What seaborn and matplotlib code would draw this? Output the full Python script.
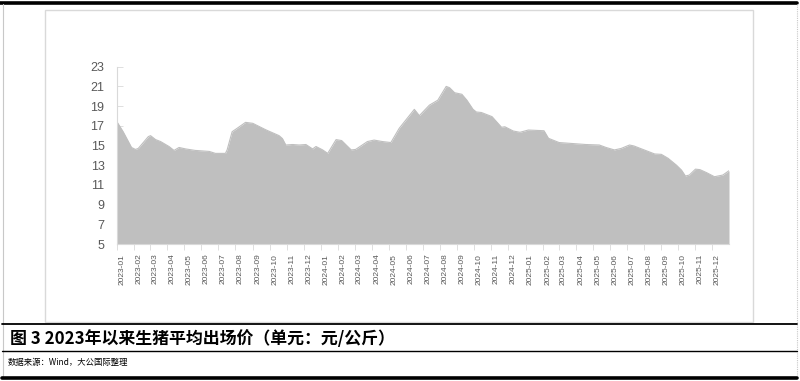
import matplotlib
matplotlib.use("Agg")
import matplotlib.pyplot as plt
import matplotlib.dates as mdates
from matplotlib import font_manager
from matplotlib.lines import Line2D
from matplotlib.patches import Rectangle
import seaborn as sns
import pandas as pd
import numpy as np

dates = [
    "2023-01-01", "2023-01-12", "2023-01-27", "2023-02-03", "2023-02-08", "2023-02-26",
    "2023-03-02", "2023-03-11", "2023-03-20", "2023-04-04", "2023-04-13", "2023-04-22",
    "2023-05-04", "2023-05-21", "2023-06-15", "2023-06-26", "2023-07-14", "2023-07-17",
    "2023-07-26", "2023-08-04", "2023-08-19", "2023-09-01", "2023-09-24", "2023-10-18",
    "2023-10-24", "2023-10-30", "2023-11-11", "2023-11-23", "2023-12-05", "2023-12-17",
    "2023-12-23", "2024-01-04", "2024-01-13", "2024-01-28", "2024-02-07", "2024-02-24",
    "2024-03-03", "2024-03-24", "2024-04-05", "2024-04-20", "2024-05-05", "2024-05-20",
    "2024-06-16", "2024-06-25", "2024-07-13", "2024-07-28", "2024-08-12", "2024-08-18",
    "2024-08-27", "2024-09-09", "2024-09-18", "2024-09-29", "2024-10-05", "2024-10-14",
    "2024-11-02", "2024-11-10", "2024-11-19", "2024-11-25", "2024-12-10", "2024-12-22",
    "2025-01-06", "2025-02-03", "2025-02-11", "2025-03-02", "2025-03-26", "2025-04-19",
    "2025-05-13", "2025-05-25", "2025-06-09", "2025-06-21", "2025-07-06", "2025-07-14",
    "2025-07-30", "2025-08-20", "2025-09-01", "2025-09-13", "2025-09-28", "2025-10-07",
    "2025-10-14", "2025-10-21", "2025-11-01", "2025-11-09", "2025-11-21", "2025-12-05",
    "2025-12-20", "2025-12-31",
]
prices = [
    17.4, 16.4, 14.8, 14.6, 14.7, 15.9,
    16.0, 15.6, 15.4, 14.9, 14.5, 14.8,
    14.65, 14.5, 14.4, 14.2, 14.2, 14.55,
    16.4, 16.75, 17.35, 17.25, 16.6, 16.0,
    15.7, 15.05, 15.1, 15.05, 15.1, 14.65,
    14.9, 14.55, 14.2, 15.6, 15.5, 14.55,
    14.6, 15.4, 15.55, 15.4, 15.3, 16.75,
    18.67, 18.03, 19.1, 19.6, 21.0, 20.87,
    20.36, 20.2, 19.6, 18.67, 18.4, 18.35,
    17.93, 17.42, 16.85, 16.9, 16.47, 16.34,
    16.57, 16.5, 15.73, 15.3, 15.2, 15.1,
    15.05, 14.8, 14.55, 14.7, 15.05, 14.95,
    14.6, 14.14, 14.1, 13.7, 13.0, 12.5,
    11.9, 12.0, 12.6, 12.55, 12.24, 11.83,
    12.0, 12.44,
]
month_labels = [f"{y}-{m:02d}" for y in (2023, 2024, 2025) for m in range(1, 13)]
y_ticks = [5, 7, 9, 11, 13, 15, 17, 19, 21, 23]

caption = "图 3 2023年以来生猪平均出场价（单元：元/公斤）"
source = "数据来源：Wind，大公国际整理"

sns.set_theme(style="white")
names = {f.name for f in font_manager.fontManager.ttflist}
narrow = "Liberation Sans Narrow" if "Liberation Sans Narrow" in names else "Liberation Sans"
plt.rcParams["font.family"] = ["Liberation Sans", "DejaVu Sans"]

df = pd.DataFrame({"date": pd.to_datetime(dates), "price": prices})

W, H = 800, 381
fig = plt.figure(figsize=(W / 100, H / 100), dpi=100)
fig.patch.set_facecolor("white")

def fx(x):
    return x / W

def fy(y):
    return 1 - y / H

# inner chart frame
fig.add_artist(Rectangle((fx(45), fy(322)), fx(753) - fx(45), fy(10) - fy(322),
                         transform=fig.transFigure, fill=False, edgecolor="#D9D9D9", lw=1.0))
# page decorations
fig.add_artist(Line2D([fx(0), fx(797)], [fy(2.5), fy(2.5)], transform=fig.transFigure, color="black", lw=2.6))
fig.add_artist(Line2D([fx(2.5), fx(2.5)], [fy(4), fy(376)], transform=fig.transFigure, color="#C8C8C8", lw=0.8))
fig.add_artist(Line2D([fx(797), fx(797)], [fy(4), fy(376)], transform=fig.transFigure, color="#C8C8C8", lw=0.8, ls=(0, (1, 1))))
fig.add_artist(Line2D([fx(2), fx(797)], [fy(323.5), fy(323.5)], transform=fig.transFigure, color="black", lw=1.3))
fig.add_artist(Line2D([fx(2), fx(797)], [fy(351), fy(351)], transform=fig.transFigure, color="black", lw=1.0))
fig.add_artist(Line2D([fx(2), fx(797)], [fy(378), fy(378)], transform=fig.transFigure, color="black", lw=2.6))

fig.text(fx(10), fy(339), caption, fontsize=12.2, fontweight="bold",
         family=["Noto Sans CJK SC", "DejaVu Sans"], va="center", ha="left", color="black")
fig.text(fx(8), fy(362), source, fontsize=6.0,
         family=["Noto Sans CJK SC", "DejaVu Sans"], va="center", ha="left", color="black")

ax = fig.add_axes([fx(117), fy(244), fx(729) - fx(117), fy(66.7) - fy(244)])
ax.set_facecolor("none")
sns.lineplot(data=df, x="date", y="price", ax=ax, color="#BFBFBF", lw=0.8)
ax.fill_between(df["date"], 5, df["price"], color="#BFBFBF", lw=0)

ax.set_xlim(df["date"].iloc[0], df["date"].iloc[-1])
ax.set_ylim(5, 23)
ax.set_yticks(y_ticks)
ax.set_yticklabels([str(v) for v in y_ticks])

month_starts = pd.date_range("2023-01-01", "2025-12-01", freq="MS")
label_pos = month_starts + pd.Timedelta(days=9)
ax.set_xticks(label_pos)
ax.set_xticklabels(month_labels, rotation=90, fontsize=6.0, family=narrow, color="#595959")
ax.set_xticks(month_starts, minor=True)
ax.tick_params(axis="x", which="major", length=0, pad=7)
ax.tick_params(axis="x", which="minor", length=4, width=0.6, color="#D9D9D9", direction="out", bottom=True)
ax.tick_params(axis="y", which="major", length=4, width=0.6, color="#D9D9D9", direction="in",
               left=True, pad=9, labelsize=9, labelcolor="#595959")
ax.set_xlabel("")
ax.set_ylabel("")
for s in ("top", "right"):
    ax.spines[s].set_visible(False)
for s in ("left", "bottom"):
    ax.spines[s].set_color("#D9D9D9")
    ax.spines[s].set_linewidth(0.8)
ax.grid(False)

fig.savefig("out.png", dpi=100, facecolor="white")
